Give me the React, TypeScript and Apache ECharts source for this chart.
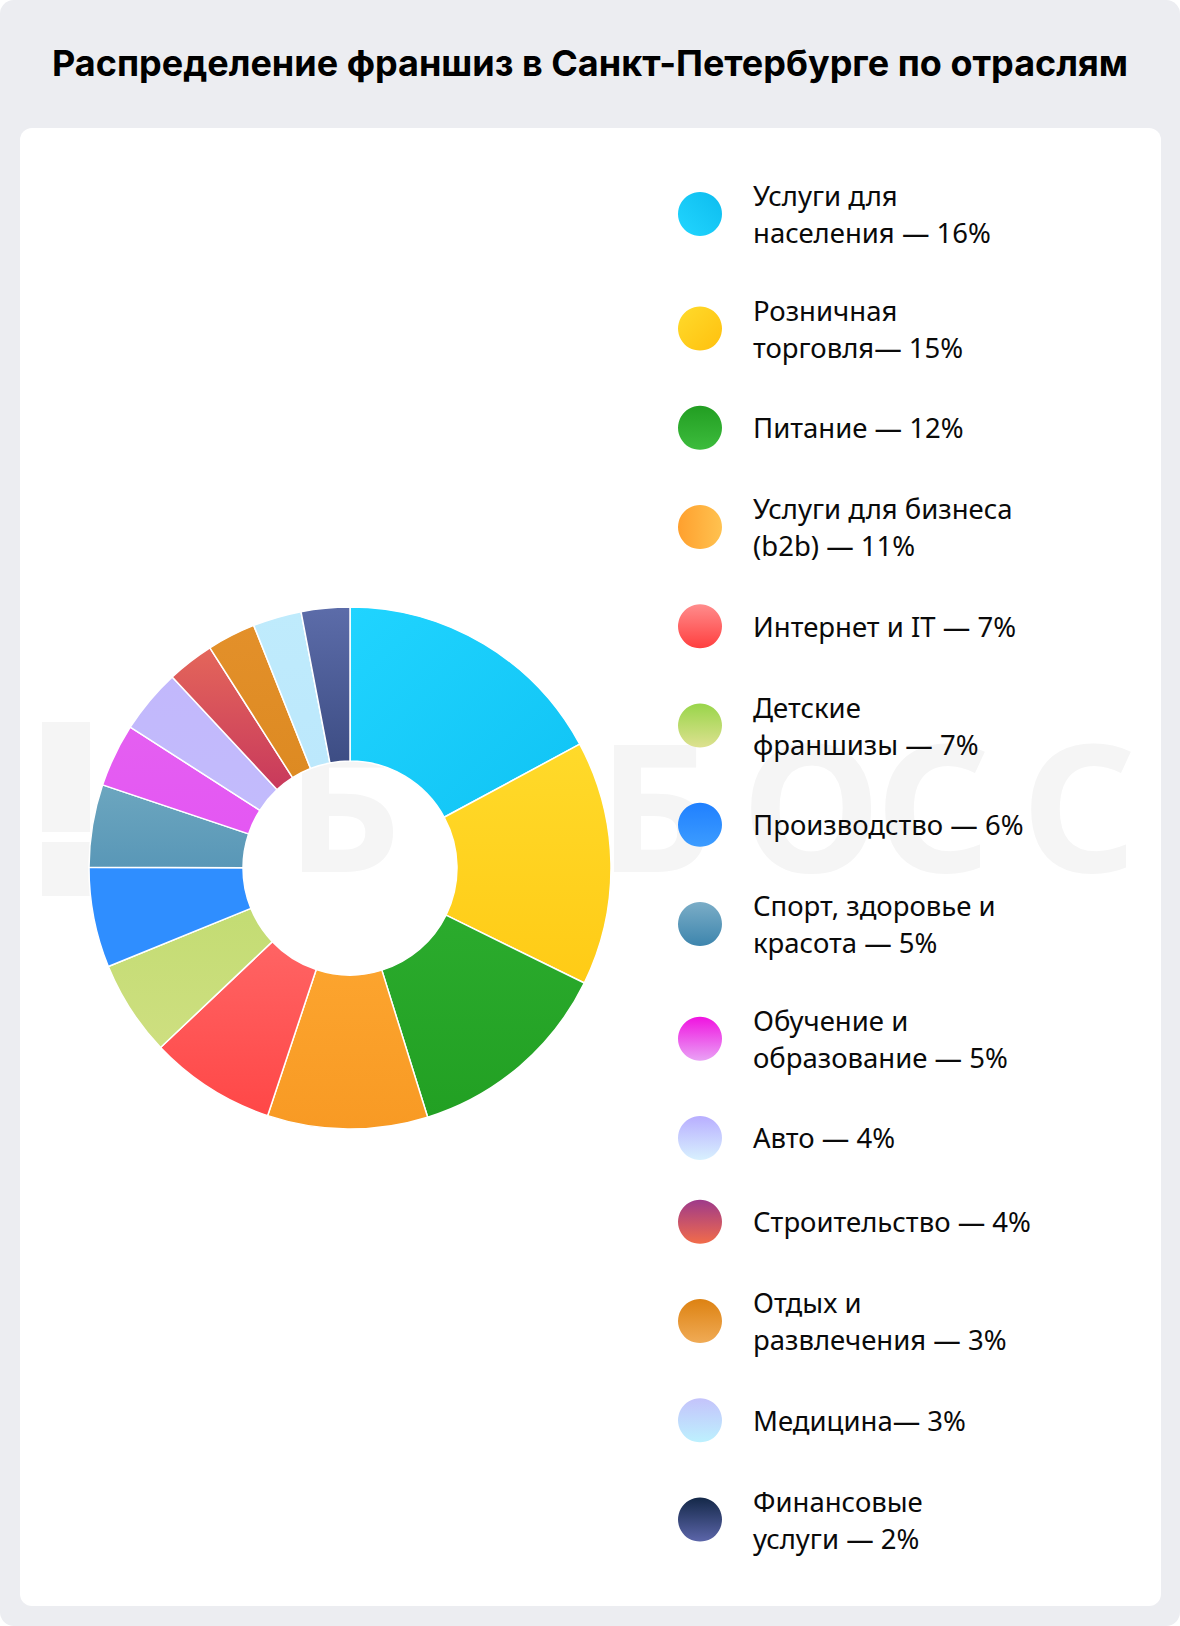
import React, { useEffect, useRef } from "react";
import * as echarts from "echarts";

const TITLE = "Распределение франшиз в Санкт-Петербурге по отраслям";

const categories = [
  "Услуги для населения",
  "Розничная торговля",
  "Питание",
  "Услуги для бизнеса (b2b)",
  "Интернет и IT",
  "Детские франшизы",
  "Производство",
  "Спорт, здоровье и красота",
  "Обучение и образование",
  "Авто",
  "Строительство",
  "Отдых и развлечения",
  "Медицина",
  "Финансовые услуги",
];

const legendLabels = [
  "Услуги для\nнаселения — 16%",
  "Розничная\nторговля— 15%",
  "Питание — 12%",
  "Услуги для бизнеса\n(b2b) — 11%",
  "Интернет и IT — 7%",
  "Детские\nфраншизы — 7%",
  "Производство — 6%",
  "Спорт, здоровье и\nкрасота — 5%",
  "Обучение и\nобразование — 5%",
  "Авто — 4%",
  "Строительство — 4%",
  "Отдых и\nразвлечения — 3%",
  "Медицина— 3%",
  "Финансовые\nуслуги — 2%",
];

// slice sizes as drawn in the picture (share of the ring, %)
const sliceValues = [17.1, 15.1, 12.9, 9.9, 7.8, 5.9, 6.2, 5.1, 3.9, 4.0, 2.9, 3.0, 3.0, 3.0];

// styles
const sliceColors: [string, string][] = [
  ["#20D4FF", "#10C3F4"],
  ["#FFDA2A", "#FFCB16"],
  ["#2BAB2D", "#22A023"],
  ["#FCA42E", "#F89A24"],
  ["#FF6464", "#FF4747"],
  ["#C3DC73", "#CEDF80"],
  ["#2F8EFF", "#2F8EFF"],
  ["#6CA6BF", "#5997B7"],
  ["#E45FF1", "#E457F3"],
  ["#C2B8FC", "#C2BBFC"],
  ["#E4665A", "#C8395C"],
  ["#E3902A", "#DD8A22"],
  ["#BFEBFC", "#BCE8FC"],
  ["#5C6CA9", "#3D4D84"],
];
const legendColors: [string, string][] = [
  ["#0DBCEF", "#22D6FF"],
  ["#FFDB2C", "#FFC00E"],
  ["#229E22", "#3DBC3D"],
  ["#FFA02E", "#FFC250"],
  ["#FF8C8C", "#FF3F3F"],
  ["#99D54A", "#DDE190"],
  ["#2080FF", "#3C9CFF"],
  ["#7BADC7", "#3D85AD"],
  ["#F012E0", "#E9A2F5"],
  ["#B8AEFF", "#D8F1FE"],
  ["#9E3A8A", "#F26C4A"],
  ["#DD8212", "#F0AB56"],
  ["#C4C3FB", "#BDF1FE"],
  ["#142848", "#5C66AA"],
];
const sliceDir: number[][] = [[0, 0, 1, 1], [0, 0, 0, 1]];
const legendDir: number[][] = [[1, 0, 0, 1], [0, 0, 1, 1], [0, 0, 0, 1], [0, 0, 1, 0]];

const grad = (c: [string, string], d: number[]) =>
  new echarts.graphic.LinearGradient(d[0], d[1], d[2], d[3], [
    { offset: 0, color: c[0] },
    { offset: 1, color: c[1] },
  ]);

const watermarkLetters = ["Б", "И", "Б", "О", "С", "С"];

export default function App() {
  const ref = useRef<HTMLDivElement>(null);
  useEffect(() => {
    if (!ref.current) return;
    const chart = echarts.init(ref.current, null, { renderer: "svg" });

    // legend layout: vertical rhythm depends on line counts
    const lines = legendLabels.map((l) => l.split("\n").length);
    const centers: number[] = [];
    let y = 214;
    lines.forEach((n, i) => {
      if (i > 0) y += 53.2 + 15.35 * (lines[i - 1] + n);
      centers.push(y);
    });

    const legends = categories.map((name, i) => ({
      data: [
        {
          name,
          icon: "circle",
          itemStyle: {
            color: grad(legendColors[i], legendDir[i === 0 ? 0 : i === 1 ? 1 : i === 3 ? 3 : 2]),
            borderWidth: 0,
          },
        },
      ],
      left: 678,
      top: centers[i] - (lines[i] > 1 ? 37 : 22),
      orient: "vertical",
      padding: 0,
      itemWidth: 44,
      itemHeight: 44,
      selectedMode: false,
      formatter: () => legendLabels[i],
      textStyle: {
        fontSize: 27.5,
        lineHeight: 37,
        color: "#0A0A0A",
        fontFamily: "Noto Sans",
        padding: [0, 0, 0, 26],
      },
    }));

    const wmX = [286, 455, 598, 742, 876, 1022];

    chart.setOption({
      animation: false,
      backgroundColor: "transparent",
      title: {
        text: TITLE,
        left: "center",
        top: 43,
        padding: 0,
        textStyle: {
          fontSize: 36,
          fontWeight: "bold",
          fontFamily: "Inter",
          color: "#000000",
          lineHeight: 40,
        },
      },
      graphic: [
        {
          type: "rect",
          shape: { x: 0, y: 0, width: 1180, height: 1626, r: 14 },
          style: { fill: "#ECEDF1" },
          silent: true,
        },
        {
          type: "rect",
          shape: { x: 20, y: 128, width: 1141, height: 1478, r: 12 },
          style: { fill: "#FFFFFF" },
          silent: true,
        },
        {
          type: "rect",
          shape: { x: 42, y: 722, width: 48, height: 110 },
          style: { fill: "#F5F5F5" },
          silent: true,
        },
        {
          type: "rect",
          shape: { x: 42, y: 842, width: 48, height: 54 },
          style: { fill: "#F5F5F5" },
          silent: true,
        },
        ...watermarkLetters.map((ch, i) => ({
          type: "text",
          x: wmX[i],
          y: 803,
          silent: true,
          style: {
            text: ch,
            fill: "#F5F5F5",
            font: 'bold 178px "Noto Sans"',
            textAlign: "left",
            textVerticalAlign: "middle",
          },
        })),
      ],
      legend: legends,
      series: [
        {
          type: "pie",
          center: [350, 868],
          radius: [107, 261],
          startAngle: 90,
          clockwise: true,
          silent: true,
          label: { show: false },
          labelLine: { show: false },
          emphasis: { disabled: true },
          itemStyle: { borderColor: "#FFFFFF", borderWidth: 1.5 },
          data: categories.map((name, i) => ({
            name,
            value: sliceValues[i],
            itemStyle: { color: grad(sliceColors[i], sliceDir[i === 0 ? 0 : 1]) },
          })),
        },
      ],
    });
    return () => chart.dispose();
  }, []);
  return (
    <div
      ref={ref}
      style={{ position: "absolute", left: 0, top: 0, width: 1180, height: 1626 }}
    />
  );
}
